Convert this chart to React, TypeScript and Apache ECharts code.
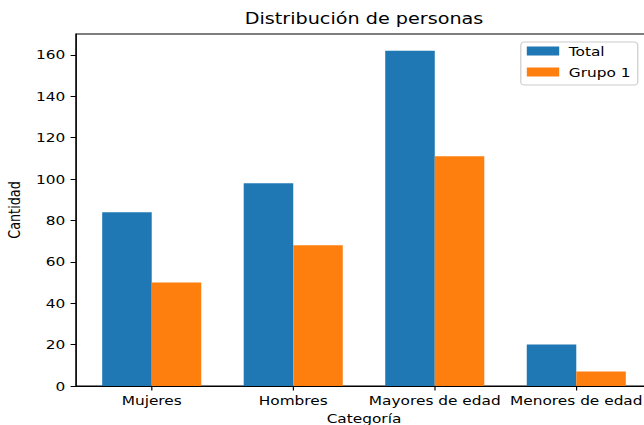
import React, { useEffect, useRef } from "react";
import * as echarts from "echarts";

const categories = ["Mujeres", "Hombres", "Mayores de edad", "Menores de edad"];
const totalValues = [84, 98, 162, 20];
const grupo1Values = [50, 68, 111, 7];
const yTicks = [0, 20, 40, 60, 80, 100, 120, 140, 160];
const xTicks = [0, 1, 2, 3];

const SX = 1.2; // horizontal stretch of the reference image
const FONT = "DejaVu Sans";

export default function App() {
  const ref = useRef<HTMLDivElement>(null);
  useEffect(() => {
    if (!ref.current) return;
    const chart = echarts.init(ref.current, undefined, { renderer: "svg" });
    const innerW = 550;
    const gridLeft = 76 / SX;
    const gridRight = innerW - 652 / SX;
    chart.setOption({
      animation: false,
      textStyle: { fontFamily: FONT },
      graphic: [
        {
          type: "text",
          x: 364 / SX,
          y: 19,
          style: {
            text: "Distribución de personas",
            fontFamily: FONT,
            fontSize: 16,
            fill: "#000",
            align: "center",
            verticalAlign: "middle",
          },
        },
      ],
      legend: {
        orient: "vertical",
        left: 434,
        top: 42,
        padding: [1, 6, 5, 5],
        itemWidth: 27,
        itemHeight: 9,
        itemGap: 5,
        icon: "rect",
        borderColor: "#cccccc",
        borderWidth: 1,
        borderRadius: 3,
        backgroundColor: "rgba(255,255,255,0.8)",
        textStyle: { fontFamily: FONT, fontSize: 12.8, color: "#000", lineHeight: 16, padding: [0, 0, 0, 3] },
        data: ["Total", "Grupo 1"],
      },
      grid: {
        left: gridLeft,
        right: gridRight,
        top: 34,
        bottom: 39,
        containLabel: false,
        outerBoundsMode: "none",
        show: true,
        borderColor: "#000",
        borderWidth: 1,
        backgroundColor: "transparent",
      },
      xAxis: {
        type: "value",
        min: -0.535,
        max: 3.535,
        splitLine: { show: false },
        axisLine: { show: true, onZero: false, lineStyle: { color: "#000", width: 1 } },
        axisTick: { show: true, customValues: xTicks, length: 4.5, lineStyle: { color: "#000" } },
        axisLabel: {
          customValues: xTicks,
          formatter: (v: number) => categories[Math.round(v)] ?? "",
          fontFamily: FONT,
          fontSize: 12.8,
          color: "#000",
          margin: 8,
          hideOverlap: false,
        },
        name: "Categoría",
        nameLocation: "middle",
        nameGap: 25,
        nameTextStyle: { fontFamily: FONT, fontSize: 12.8, color: "#000" },
      },
      yAxis: {
        type: "value",
        min: 0,
        max: 170.1,
        splitLine: { show: false },
        axisLine: { show: true, onZero: false, lineStyle: { color: "#000", width: 1 } },
        axisTick: { show: true, customValues: yTicks, length: 4.5, lineStyle: { color: "#000" } },
        axisLabel: {
          customValues: yTicks,
          fontFamily: FONT,
          fontSize: 12.8,
          color: "#000",
          margin: 9,
        },
        name: "Cantidad",
        nameLocation: "middle",
        nameRotate: 90,
        nameGap: 39,
        nameTextStyle: { fontFamily: FONT, fontSize: 12.8, color: "#000" },
      },
      series: [
        {
          name: "Total",
          type: "bar",
          data: totalValues.map((v, i) => [i, v]),
          barWidth: 141.5 * 0.35 / SX,
          barGap: "0%",
          itemStyle: { color: "#1f77b4" },
        },
        {
          name: "Grupo 1",
          type: "bar",
          data: grupo1Values.map((v, i) => [i, v]),
          barWidth: 141.5 * 0.35 / SX,
          barGap: "0%",
          itemStyle: { color: "#ff7f0e" },
        },
      ],
    });
    return () => chart.dispose();
  }, []);
  return (
    <div style={{ position: "absolute", left: 0, top: 0, width: 644, height: 425, overflow: "hidden", background: "#fff" }}>
      <div
        ref={ref}
        style={{ width: 550, height: 425, transform: `scaleX(${SX})`, transformOrigin: "0 0" }}
      />
    </div>
  );
}
